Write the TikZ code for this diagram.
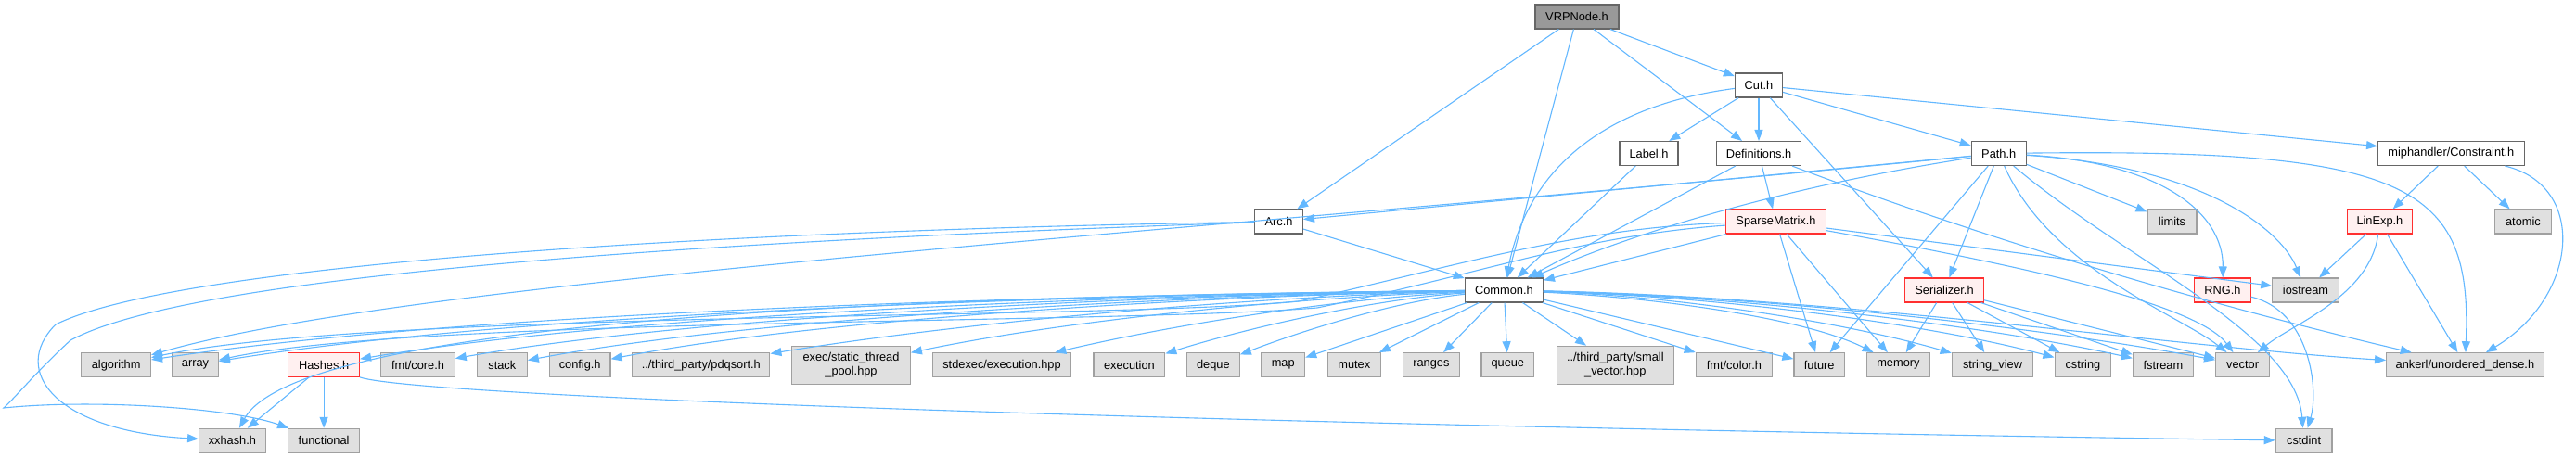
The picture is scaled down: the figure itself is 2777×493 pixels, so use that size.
\documentclass[tikz,border=0pt]{standalone}
\usepackage{fontspec}
\setmainfont{Liberation Sans}
\usetikzlibrary{arrows.meta}
\definecolor{edgec}{HTML}{63B8FF}
\definecolor{bdark}{HTML}{666666}
\definecolor{bgray}{HTML}{A0A0A0}
\definecolor{fgray}{HTML}{E0E0E0}
\definecolor{rootfill}{HTML}{999999}
\definecolor{bred}{HTML}{FF3030}
\definecolor{fred}{HTML}{FFF0F0}
\begin{document}
\begin{tikzpicture}[x=1pt,y=-1pt,
 base/.style={line width=1.1pt, minimum height=26pt, inner sep=0pt, font=\fontsize{12.8}{15}\selectfont, text=black, align=center},
 doc/.style={base, draw=bdark, fill=white},
 ext/.style={base, draw=bgray, fill=fgray},
 redn/.style={base, draw=bred, fill=fred},
 rootn/.style={base, draw=bdark, fill=rootfill},
 conn/.style={draw=edgec, line width=1.1pt, -{Triangle[length=12pt,width=9pt]}}]
\useasboundingbox[fill=white] (0,0) rectangle (2777,493);

% nodes
\node[rootn, minimum width=90pt] (root) at (1700,18) {VRPNode.h};
\node[doc, minimum width=51pt] (cut) at (1896,92) {Cut.h};
\node[doc, minimum width=63pt] (label) at (1777.5,165.5) {Label.h};
\node[doc, minimum width=91.5pt] (defs) at (1896,165.5) {Definitions.h};
\node[doc, minimum width=59pt] (path) at (2154.7,165.5) {Path.h};
\node[doc, minimum width=157.6pt] (constr) at (2642.4,165.5) {miphandler/Constraint.h};
\node[doc, minimum width=51.8pt] (arc) at (1378.6,239) {Arc.h};
\node[redn, minimum width=107.6pt] (sparse) at (1914.5,239) {SparseMatrix.h};
\node[ext, minimum width=53pt] (limits) at (2341.5,239) {limits};
\node[redn, minimum width=70.5pt] (linexp) at (2565.4,239) {LinExp.h};
\node[ext, minimum width=60.7pt] (atomic) at (2719.9,239) {atomic};
\node[doc, minimum width=84pt] (common) at (1621.4,313) {Common.h};
\node[redn, minimum width=84.6pt] (serial) at (2096,313) {Serializer.h};
\node[redn, minimum width=60.3pt] (rng) at (2396,313) {RNG.h};
\node[ext, minimum width=71.4pt] (iostream) at (2485.5,313) {iostream};

\node[ext, minimum width=74.6pt] (algorithm) at (125.2,393.7) {algorithm};
\node[ext, minimum width=49.6pt] (array) at (210.5,393.7) {array};
\node[redn, minimum width=76.8pt] (hashes) at (349.1,393.7) {Hashes.h};
\node[ext, minimum width=79.5pt] (fmtcore) at (450.5,393.7) {fmt/core.h};
\node[ext, minimum width=54pt] (stack) at (541.3,393.7) {stack};
\node[ext, minimum width=65.6pt] (config) at (625.2,393.7) {config.h};
\node[ext, minimum width=148.2pt] (pdqsort) at (755.8,393.7) {../third\_party/pdqsort.h};
\node[ext, minimum width=127.7pt, minimum height=41pt] (stp) at (917.5,393.8) {exec/static\_thread\\\_pool.hpp};
\node[ext, minimum width=149pt] (stdexec) at (1080,393.7) {stdexec/execution.hpp};
\node[ext, minimum width=76.8pt] (execution) at (1217.4,393.7) {execution};
\node[ext, minimum width=56.7pt] (deque) at (1307.9,393.7) {deque};
\node[ext, minimum width=47pt] (map) at (1383.2,393.7) {map};
\node[ext, minimum width=57pt] (mutex) at (1459.8,393.7) {mutex};
\node[ext, minimum width=60.7pt] (ranges) at (1542.9,393.7) {ranges};
\node[ext, minimum width=56.7pt] (queue) at (1625.3,393.7) {queue};
\node[ext, minimum width=126.4pt, minimum height=41pt] (smallvec) at (1741.3,393.8) {../third\_party/small\\\_vector.hpp};
\node[ext, minimum width=82.6pt] (fmtcolor) at (1869.4,393.7) {fmt/color.h};
\node[ext, minimum width=54.5pt] (future) at (1961.2,393.7) {future};
\node[ext, minimum width=67.9pt] (memory) at (2046.4,393.7) {memory};
\node[ext, minimum width=87.5pt] (stringview) at (2148,393.7) {string\_view};
\node[ext, minimum width=60.7pt] (cstring) at (2245.4,393.7) {cstring};
\node[ext, minimum width=65.2pt] (fstream) at (2331.9,393.7) {fstream};
\node[ext, minimum width=58pt] (vector) at (2417.6,393.7) {vector};
\node[ext, minimum width=169.6pt] (ankerl) at (2657.4,393.7) {ankerl/unordered\_dense.h};

\node[ext, minimum width=71.5pt] (xxhash) at (250.4,475.3) {xxhash.h};
\node[ext, minimum width=76.8pt] (functional) at (349.1,475.3) {functional};
\node[ext, minimum width=60.7pt] (cstdint) at (2483.6,475.3) {cstdint};

% edges from VRPNode.h
\draw[conn] (root) -- (arc);
\draw[conn] (root) -- (common);
\draw[conn] (root) -- (defs);
\draw[conn] (root) -- (cut);
% Cut.h
\draw[conn] (cut) -- (label);
\draw[conn] (cut) -- (defs);
\draw[conn] (cut) -- (path);
\draw[conn] (cut) -- (constr);
\draw[conn] (cut) -- (serial);
\draw[conn] (cut) .. controls (1720,115) and (1645,190) .. (common);
% Label.h, Definitions.h
\draw[conn] (label) -- (common);
\draw[conn] (defs) -- (common);
\draw[conn] (defs) -- (sparse);
\draw[conn] (defs) .. controls (2200,280) and (2450,345) .. (ankerl);
% Path.h
\draw[conn] (path) -- (arc);
\draw[conn] (path) .. controls (1300,250) and (450,300) .. (algorithm);
\draw[conn] (path) .. controls (1900,205) and (1740,260) .. (common);
\draw[conn] (path) -- (serial);
\draw[conn] (path) -- (future);
\draw[conn] (path) .. controls (2210,290) and (2350,340) .. (vector);
\draw[conn] (path) .. controls (2290,280) and (2475,360) .. (cstdint);
\draw[conn] (path) -- (limits);
\draw[conn] (path) .. controls (2330,175) and (2397,230) .. (rng);
\draw[conn] (path) .. controls (2380,180) and (2460,250) .. (iostream);
\draw[conn] (path) .. controls (2600,160) and (2665,200) .. (ankerl);
% Arc.h
\draw[conn] (arc) -- (common);
\draw[conn] (arc) .. controls (700,250) and (180,290) .. (60,350) .. controls (10,400) and (60,465) .. (xxhash);
\draw[conn] (arc) .. controls (700,262) and (200,300) .. (76,367) .. controls (40,400) and (20,425) .. (4,440) .. controls (100,430) and (250,440) .. (functional);
% SparseMatrix.h
\draw[conn] (sparse) -- (common);
\draw[conn] (sparse) .. controls (1700,245) and (1560,290) .. (1400,325) .. controls (1200,345) and (400,335) .. (algorithm);
\draw[conn] (sparse) .. controls (1700,255) and (1600,295) .. (1420,332) .. controls (1200,350) and (450,342) .. (array);
\draw[conn] (sparse) -- (iostream);
\draw[conn] (sparse) .. controls (2200,290) and (2370,330) .. (vector);
\draw[conn] (sparse) -- (future);
\draw[conn] (sparse) -- (memory);
% Serializer.h
\draw[conn] (serial) -- (memory);
\draw[conn] (serial) -- (stringview);
\draw[conn] (serial) -- (cstring);
\draw[conn] (serial) -- (fstream);
\draw[conn] (serial) -- (vector);
% RNG.h, LinExp.h, Constraint.h
\draw[conn] (rng) .. controls (2490,335) and (2500,420) .. (cstdint);
\draw[conn] (linexp) -- (iostream);
\draw[conn] (linexp) .. controls (2555,320) and (2470,350) .. (vector);
\draw[conn] (linexp) -- (ankerl);
\draw[conn] (constr) -- (linexp);
\draw[conn] (constr) -- (atomic);
\draw[conn] (constr) .. controls (2790,200) and (2780,320) .. (ankerl);
% Hashes.h
\draw[conn] (hashes) -- (xxhash);
\draw[conn] (hashes) -- (functional);
\draw[conn] (hashes) .. controls (450,428) and (1300,458) .. (cstdint);
% Common.h to the left
\draw[conn] (common) .. controls (1152,318) and (511,335) .. (algorithm);
\draw[conn] (common) .. controls (1173,318) and (564,336) .. (array);
\draw[conn] (common) .. controls (1150,318) and (330,332) .. (xxhash);
\draw[conn] (common) .. controls (1219,318) and (680,338) .. (hashes);
\draw[conn] (common) .. controls (1249,318) and (755,340) .. (fmtcore);
\draw[conn] (common) .. controls (1273,319) and (815,342) .. (stack);
\draw[conn] (common) .. controls (1299,319) and (880,344) .. (config);
\draw[conn] (common) .. controls (1345,320) and (1034,348) .. (pdqsort);
\draw[conn] (common) .. controls (1396,321) and (1150,345) .. (stp);
\draw[conn] (common) .. controls (1444,322) and (1265,350) .. (stdexec);
\draw[conn] (common) .. controls (1477,323) and (1340,355) .. (execution);
\draw[conn] (common) .. controls (1503,325) and (1400,358) .. (deque);
\draw[conn] (common) -- (map);
\draw[conn] (common) -- (mutex);
\draw[conn] (common) -- (ranges);
\draw[conn] (common) -- (queue);
\draw[conn] (common) -- (smallvec);
% Common.h to the right
\draw[conn] (common) -- (fmtcolor);
\draw[conn] (common) -- (future);
\draw[conn] (common) .. controls (1800,322) and (1950,345) .. (memory);
\draw[conn] (common) .. controls (1820,320) and (1998,350) .. (stringview);
\draw[conn] (common) .. controls (1859,320) and (2082,350) .. (cstring);
\draw[conn] (common) .. controls (1888,320) and (2145,352) .. (fstream);
\draw[conn] (common) .. controls (1918,320) and (2210,355) .. (vector);
\draw[conn] (common) .. controls (1982,320) and (2350,375) .. (ankerl);
\end{tikzpicture}
\end{document}
